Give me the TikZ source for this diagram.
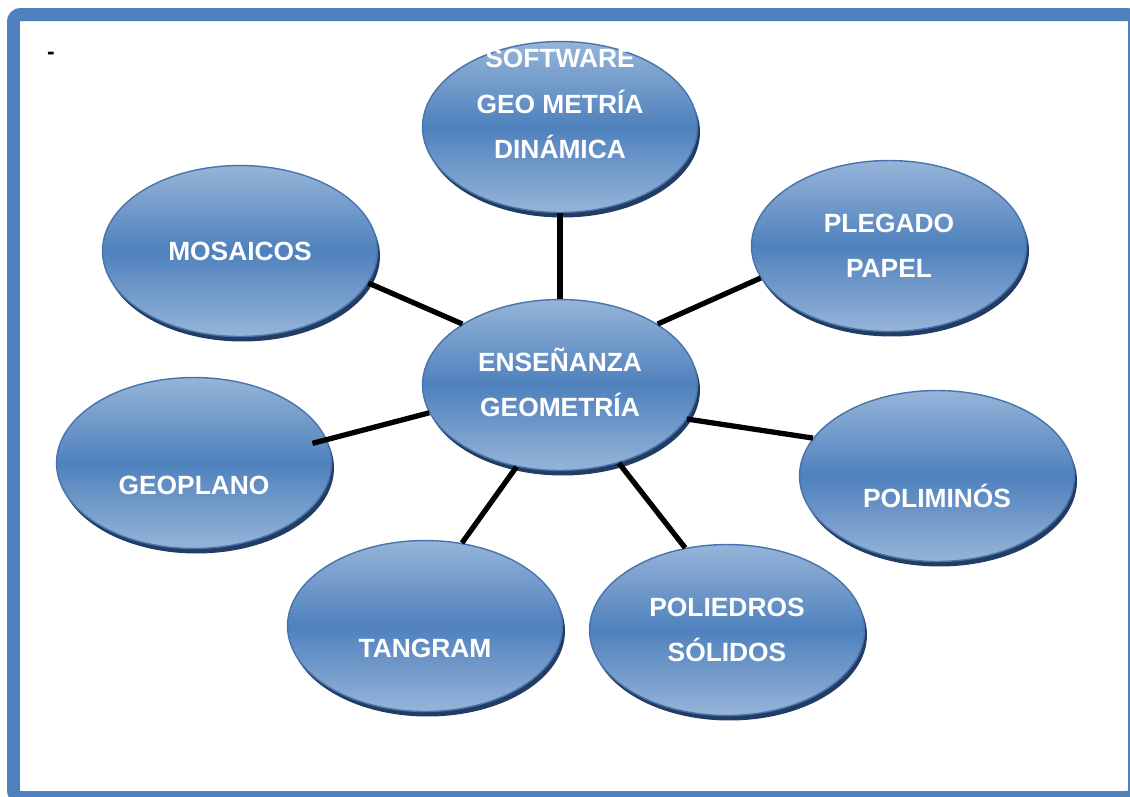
\documentclass[tikz,border=0pt]{standalone}
\usepackage{fontspec}
\setmainfont{Liberation Sans}
\usepackage{tikz}
\usetikzlibrary{shapes.geometric}
\usetikzlibrary{shadows}
\definecolor{azulBorde}{RGB}{79, 129, 189}
\definecolor{azulClaro}{RGB}{150, 180, 216}
\definecolor{azulSombra}{RGB}{35, 60, 100}

\begin{document}
\begin{tikzpicture} [
    x=0.02cm, y=-0.02cm,
    burbuja/.style = { ellipse, draw=azulBorde!90!black, line width=0.8pt,
                       top color=azulClaro, bottom color=azulClaro,
                       middle color=azulBorde,
                       minimum width=5.5cm, minimum height=3.42cm, inner sep=0pt,
                       text=white, align=center,
                       font=\bfseries\fontsize{15}{26}\selectfont,
                       drop shadow={shadow xshift=0.05cm, shadow yshift=-0.1cm,
                                    fill=azulSombra, opacity=1}},
    linea/.style   = { draw, line width=3pt},
    marco/.style   = { draw=azulBorde, line width=0.26cm, rounded corners=4pt},
  ]

  \useasboundingbox (0,0) rectangle (1130,796);

%Rahmen
  \path[marco] (13.5,14.5) rectangle (1134.5,797.5);
  \node[font=\bfseries\fontsize{13}{14}\selectfont, inner sep=0pt] (guion) at (51,56) {-};

%Knoten: Mitte und ringsherum
  \node [burbuja] (centro)   at (560,385) {\strut ENSEÑANZA\\\strut GEOMETRÍA};
  \node [burbuja, inner ysep=-20pt]
                  (software) at (560,127) {\strut SOFTWARE\\\strut GEO METRÍA\\\strut DINÁMICA\\\strut};
  \node [burbuja] (plegado)  at (889,246) {\strut PLEGADO\\\strut PAPEL};
  \node [burbuja] (polimino) at (937,476) {\strut\\\strut POLIMINÓS};
  \node [burbuja] (poliedro) at (727,630) {\strut POLIEDROS\\\strut SÓLIDOS};
  \node [burbuja] (tangram)  at (425,626) {\strut\\\strut TANGRAM};
  \node [burbuja] (geoplano) at (194,463) {\strut\\\strut GEOPLANO};
  \node [burbuja] (mosaico)  at (240,251) {\strut MOSAICOS};

%schwarze Linien (von der Mitte nach aussen)
  \begin{scope} [every path/.style={linea}]
   \path (centro.90)   -- (software.-90);
   \path (centro.32)   -- (plegado.194);
   \path (centro.-15)  -- (polimino.163);
   \path (centro.-53)  -- (poliedro.117);
   \path (centro.-118) -- (tangram.66);
   \path[shorten >=-0.3cm] (centro.192) -- (geoplano.10);
   \path (centro.148)  -- (mosaico.-14);
  \end{scope}
\end{tikzpicture}
\end{document}
